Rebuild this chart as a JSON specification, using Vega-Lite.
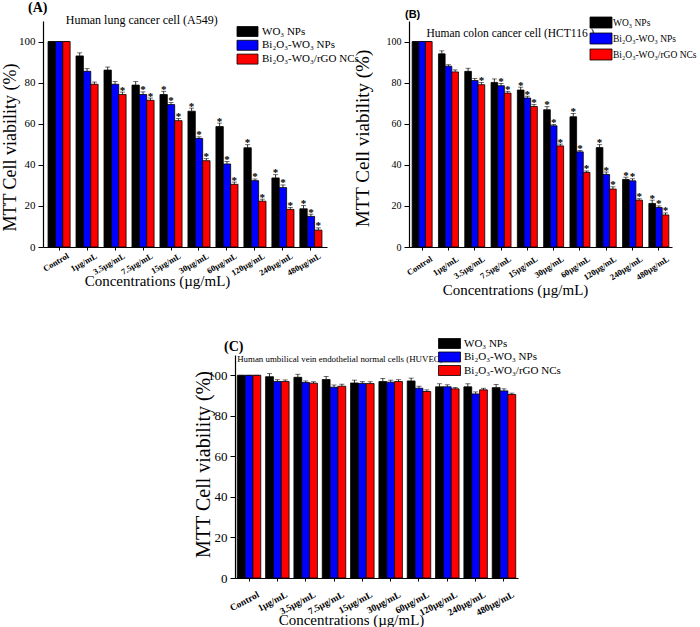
{
  "$schema": "https://vega.github.io/schema/vega-lite/v6.json",
  "padding": {"left": 0, "top": 0, "right": 0, "bottom": 0},
  "autosize": {"type": "pad"},
  "background": "white",
  "config": {
    "view": {"stroke": null},
    "font": "Liberation Serif",
    "title": {"color": "black"},
    "axis": {"grid": false, "labelColor": "black", "titleColor": "black", "tickColor": "black", "domainColor": "black", "labelOverlap": false, "labelFlush": false}
  },
  "spacing": 41,
  "resolve": {"scale": {"color": "independent", "x": "independent", "y": "independent", "xOffset": "independent"}, "legend": {"color": "independent"}},
  "datasets": {
    "A": [
      {"c": "Control", "s": "WO₃ NPs", "v": 100, "hi": 100, "st": 0},
      {"c": "Control", "s": "Bi₂O₃-WO₃ NPs", "v": 100, "hi": 100, "st": 0},
      {"c": "Control", "s": "Bi₂O₃-WO₃/rGO NCs", "v": 100, "hi": 100, "st": 0},
      {"c": "1µg/mL", "s": "WO₃ NPs", "v": 93.0, "hi": 94.5, "st": 0},
      {"c": "1µg/mL", "s": "Bi₂O₃-WO₃ NPs", "v": 85.5, "hi": 86.8, "st": 0},
      {"c": "1µg/mL", "s": "Bi₂O₃-WO₃/rGO NCs", "v": 79.2, "hi": 80.3, "st": 0},
      {"c": "3.5µg/mL", "s": "WO₃ NPs", "v": 86.1, "hi": 87.6, "st": 0},
      {"c": "3.5µg/mL", "s": "Bi₂O₃-WO₃ NPs", "v": 79.2, "hi": 80.5, "st": 0},
      {"c": "3.5µg/mL", "s": "Bi₂O₃-WO₃/rGO NCs", "v": 74.2, "hi": 75.4, "st": 1},
      {"c": "7.5µg/mL", "s": "WO₃ NPs", "v": 78.8, "hi": 80.5, "st": 0},
      {"c": "7.5µg/mL", "s": "Bi₂O₃-WO₃ NPs", "v": 74.2, "hi": 75.5, "st": 1},
      {"c": "7.5µg/mL", "s": "Bi₂O₃-WO₃/rGO NCs", "v": 71.4, "hi": 72.5, "st": 1},
      {"c": "15µg/mL", "s": "WO₃ NPs", "v": 74.2, "hi": 75.8, "st": 1},
      {"c": "15µg/mL", "s": "Bi₂O₃-WO₃ NPs", "v": 69.3, "hi": 70.3, "st": 1},
      {"c": "15µg/mL", "s": "Bi₂O₃-WO₃/rGO NCs", "v": 61.5, "hi": 62.5, "st": 1},
      {"c": "30µg/mL", "s": "WO₃ NPs", "v": 66.1, "hi": 67.6, "st": 1},
      {"c": "30µg/mL", "s": "Bi₂O₃-WO₃ NPs", "v": 52.8, "hi": 53.6, "st": 1},
      {"c": "30µg/mL", "s": "Bi₂O₃-WO₃/rGO NCs", "v": 42.0, "hi": 43.0, "st": 1},
      {"c": "60µg/mL", "s": "WO₃ NPs", "v": 58.6, "hi": 60.3, "st": 1},
      {"c": "60µg/mL", "s": "Bi₂O₃-WO₃ NPs", "v": 40.4, "hi": 41.6, "st": 1},
      {"c": "60µg/mL", "s": "Bi₂O₃-WO₃/rGO NCs", "v": 30.5, "hi": 31.6, "st": 1},
      {"c": "120µg/mL", "s": "WO₃ NPs", "v": 48.3, "hi": 49.8, "st": 1},
      {"c": "120µg/mL", "s": "Bi₂O₃-WO₃ NPs", "v": 32.3, "hi": 33.1, "st": 1},
      {"c": "120µg/mL", "s": "Bi₂O₃-WO₃/rGO NCs", "v": 22.3, "hi": 23.3, "st": 1},
      {"c": "240µg/mL", "s": "WO₃ NPs", "v": 33.6, "hi": 35.2, "st": 1},
      {"c": "240µg/mL", "s": "Bi₂O₃-WO₃ NPs", "v": 28.9, "hi": 30.2, "st": 1},
      {"c": "240µg/mL", "s": "Bi₂O₃-WO₃/rGO NCs", "v": 18.3, "hi": 19.2, "st": 1},
      {"c": "480µg/mL", "s": "WO₃ NPs", "v": 18.6, "hi": 20.2, "st": 1},
      {"c": "480µg/mL", "s": "Bi₂O₃-WO₃ NPs", "v": 14.9, "hi": 16.0, "st": 1},
      {"c": "480µg/mL", "s": "Bi₂O₃-WO₃/rGO NCs", "v": 8.2, "hi": 9.3, "st": 1}
    ],
    "B": [
      {"c": "Control", "s": "WO₃ NPs", "v": 100, "hi": 100, "st": 0},
      {"c": "Control", "s": "Bi₂O₃-WO₃ NPs", "v": 100, "hi": 100, "st": 0},
      {"c": "Control", "s": "Bi₂O₃-WO₃/rGO NCs", "v": 100, "hi": 100, "st": 0},
      {"c": "1µg/mL", "s": "WO₃ NPs", "v": 94.0, "hi": 95.5, "st": 0},
      {"c": "1µg/mL", "s": "Bi₂O₃-WO₃ NPs", "v": 88.0, "hi": 88.7, "st": 0},
      {"c": "1µg/mL", "s": "Bi₂O₃-WO₃/rGO NCs", "v": 85.2, "hi": 86.2, "st": 0},
      {"c": "3.5µg/mL", "s": "WO₃ NPs", "v": 85.5, "hi": 87.0, "st": 0},
      {"c": "3.5µg/mL", "s": "Bi₂O₃-WO₃ NPs", "v": 81.0, "hi": 82.0, "st": 0},
      {"c": "3.5µg/mL", "s": "Bi₂O₃-WO₃/rGO NCs", "v": 79.0, "hi": 80.0, "st": 1},
      {"c": "7.5µg/mL", "s": "WO₃ NPs", "v": 80.1, "hi": 81.8, "st": 0},
      {"c": "7.5µg/mL", "s": "Bi₂O₃-WO₃ NPs", "v": 78.5, "hi": 79.6, "st": 1},
      {"c": "7.5µg/mL", "s": "Bi₂O₃-WO₃/rGO NCs", "v": 74.9, "hi": 75.8, "st": 1},
      {"c": "15µg/mL", "s": "WO₃ NPs", "v": 76.4, "hi": 77.8, "st": 1},
      {"c": "15µg/mL", "s": "Bi₂O₃-WO₃ NPs", "v": 72.5, "hi": 73.4, "st": 1},
      {"c": "15µg/mL", "s": "Bi₂O₃-WO₃/rGO NCs", "v": 68.4, "hi": 69.3, "st": 1},
      {"c": "30µg/mL", "s": "WO₃ NPs", "v": 66.8, "hi": 68.3, "st": 1},
      {"c": "30µg/mL", "s": "Bi₂O₃-WO₃ NPs", "v": 59.0, "hi": 59.6, "st": 1},
      {"c": "30µg/mL", "s": "Bi₂O₃-WO₃/rGO NCs", "v": 49.2, "hi": 50.1, "st": 1},
      {"c": "60µg/mL", "s": "WO₃ NPs", "v": 63.4, "hi": 65.0, "st": 1},
      {"c": "60µg/mL", "s": "Bi₂O₃-WO₃ NPs", "v": 46.3, "hi": 47.0, "st": 1},
      {"c": "60µg/mL", "s": "Bi₂O₃-WO₃/rGO NCs", "v": 36.3, "hi": 37.0, "st": 1},
      {"c": "120µg/mL", "s": "WO₃ NPs", "v": 48.4, "hi": 49.8, "st": 1},
      {"c": "120µg/mL", "s": "Bi₂O₃-WO₃ NPs", "v": 35.3, "hi": 36.5, "st": 1},
      {"c": "120µg/mL", "s": "Bi₂O₃-WO₃/rGO NCs", "v": 28.2, "hi": 29.3, "st": 1},
      {"c": "240µg/mL", "s": "WO₃ NPs", "v": 32.9, "hi": 34.0, "st": 1},
      {"c": "240µg/mL", "s": "Bi₂O₃-WO₃ NPs", "v": 32.2, "hi": 33.2, "st": 1},
      {"c": "240µg/mL", "s": "Bi₂O₃-WO₃/rGO NCs", "v": 22.8, "hi": 23.5, "st": 1},
      {"c": "480µg/mL", "s": "WO₃ NPs", "v": 21.2, "hi": 22.8, "st": 1},
      {"c": "480µg/mL", "s": "Bi₂O₃-WO₃ NPs", "v": 19.2, "hi": 20.0, "st": 1},
      {"c": "480µg/mL", "s": "Bi₂O₃-WO₃/rGO NCs", "v": 15.6, "hi": 16.6, "st": 1}
    ],
    "C": [
      {"c": "Control", "s": "WO₃ NPs", "v": 100, "hi": 100, "st": 0},
      {"c": "Control", "s": "Bi₂O₃-WO₃ NPs", "v": 100, "hi": 100, "st": 0},
      {"c": "Control", "s": "Bi₂O₃-WO₃/rGO NCs", "v": 100, "hi": 100, "st": 0},
      {"c": "1µg/mL", "s": "WO₃ NPs", "v": 99.3, "hi": 100.8, "st": 0},
      {"c": "1µg/mL", "s": "Bi₂O₃-WO₃ NPs", "v": 96.9, "hi": 97.8, "st": 0},
      {"c": "1µg/mL", "s": "Bi₂O₃-WO₃/rGO NCs", "v": 96.9, "hi": 97.7, "st": 0},
      {"c": "3.5µg/mL", "s": "WO₃ NPs", "v": 99.0, "hi": 100.5, "st": 0},
      {"c": "3.5µg/mL", "s": "Bi₂O₃-WO₃ NPs", "v": 96.4, "hi": 97.2, "st": 0},
      {"c": "3.5µg/mL", "s": "Bi₂O₃-WO₃/rGO NCs", "v": 96.1, "hi": 96.8, "st": 0},
      {"c": "7.5µg/mL", "s": "WO₃ NPs", "v": 97.9, "hi": 99.4, "st": 0},
      {"c": "7.5µg/mL", "s": "Bi₂O₃-WO₃ NPs", "v": 94.1, "hi": 95.2, "st": 0},
      {"c": "7.5µg/mL", "s": "Bi₂O₃-WO₃/rGO NCs", "v": 94.6, "hi": 95.6, "st": 0},
      {"c": "15µg/mL", "s": "WO₃ NPs", "v": 96.2, "hi": 97.6, "st": 0},
      {"c": "15µg/mL", "s": "Bi₂O₃-WO₃ NPs", "v": 95.9, "hi": 96.8, "st": 0},
      {"c": "15µg/mL", "s": "Bi₂O₃-WO₃/rGO NCs", "v": 95.9, "hi": 96.8, "st": 0},
      {"c": "30µg/mL", "s": "WO₃ NPs", "v": 96.9, "hi": 98.4, "st": 0},
      {"c": "30µg/mL", "s": "Bi₂O₃-WO₃ NPs", "v": 96.6, "hi": 97.6, "st": 0},
      {"c": "30µg/mL", "s": "Bi₂O₃-WO₃/rGO NCs", "v": 96.9, "hi": 97.8, "st": 0},
      {"c": "60µg/mL", "s": "WO₃ NPs", "v": 97.2, "hi": 98.6, "st": 0},
      {"c": "60µg/mL", "s": "Bi₂O₃-WO₃ NPs", "v": 93.6, "hi": 94.6, "st": 0},
      {"c": "60µg/mL", "s": "Bi₂O₃-WO₃/rGO NCs", "v": 92.0, "hi": 92.8, "st": 0},
      {"c": "120µg/mL", "s": "WO₃ NPs", "v": 94.3, "hi": 95.8, "st": 0},
      {"c": "120µg/mL", "s": "Bi₂O₃-WO₃ NPs", "v": 94.3, "hi": 95.3, "st": 0},
      {"c": "120µg/mL", "s": "Bi₂O₃-WO₃/rGO NCs", "v": 93.3, "hi": 94.0, "st": 0},
      {"c": "240µg/mL", "s": "WO₃ NPs", "v": 94.3, "hi": 95.8, "st": 0},
      {"c": "240µg/mL", "s": "Bi₂O₃-WO₃ NPs", "v": 90.8, "hi": 91.8, "st": 0},
      {"c": "240µg/mL", "s": "Bi₂O₃-WO₃/rGO NCs", "v": 92.8, "hi": 93.6, "st": 0},
      {"c": "480µg/mL", "s": "WO₃ NPs", "v": 93.9, "hi": 95.4, "st": 0},
      {"c": "480µg/mL", "s": "Bi₂O₃-WO₃ NPs", "v": 92.3, "hi": 93.3, "st": 0},
      {"c": "480µg/mL", "s": "Bi₂O₃-WO₃/rGO NCs", "v": 90.5, "hi": 91.2, "st": 0}
    ]
  },
  "vconcat": [
    {
      "hconcat": [
        {
          "width": 284, "height": 226,
          "data": {"name": "A"},
          "title": {"text": "(A)", "anchor": "start", "frame": "group", "dx": -15, "offset": -1, "fontSize": 14, "fontWeight": "bold", "font": "Liberation Serif"},
          "encoding": {
            "x": {"field": "c", "type": "nominal", "sort": ["Control", "1µg/mL", "3.5µg/mL", "7.5µg/mL", "15µg/mL", "30µg/mL", "60µg/mL", "120µg/mL", "240µg/mL", "480µg/mL"],
              "scale": {"paddingInner": 0.21, "paddingOuter": 0.18},
              "axis": {"title": "Concentrations (µg/mL)", "titleFont": "Liberation Serif", "titleFontSize": 15, "titleFontWeight": "normal", "titleX": 114, "titleY": 33, "titleBaseline": "middle", "titleAlign": "center",
                "labelAngle": -30, "labelAlign": "right", "labelBaseline": "top", "labelFont": "Liberation Serif", "labelFontWeight": "bold", "labelFontSize": 8.5, "labelPadding": 1, "labelOffset": 7, "tickSize": 3, "domainWidth": 1.2}},
            "xOffset": {"field": "s", "type": "nominal", "sort": ["WO₃ NPs", "Bi₂O₃-WO₃ NPs", "Bi₂O₃-WO₃/rGO NCs"], "scale": {"paddingInner": 0, "paddingOuter": 0}}
          },
          "layer": [
            {
              "mark": {"type": "bar", "stroke": "black", "strokeWidth": 0.8},
              "encoding": {
                "y": {"field": "v", "type": "quantitative", "stack": null, "scale": {"domain": [0, 110], "nice": false},
                  "axis": {"values": [0, 20, 40, 60, 80, 100], "title": "MTT Cell viability (%)", "titleFont": "Liberation Serif", "titleFontSize": 18, "titleFontWeight": "normal", "titleX": -33, "titleY": 126, "titleAngle": -90, "titleBaseline": "middle", "titleAlign": "center",
                    "labelFont": "Liberation Serif", "labelFontSize": 11, "labelPadding": 3, "tickSize": 5, "domainWidth": 1.2}},
                "color": {"field": "s", "type": "nominal", "sort": ["WO₃ NPs", "Bi₂O₃-WO₃ NPs", "Bi₂O₃-WO₃/rGO NCs"],
                  "scale": {"domain": ["WO₃ NPs", "Bi₂O₃-WO₃ NPs", "Bi₂O₃-WO₃/rGO NCs"], "range": ["#000000", "#0000ff", "#ff0000"]},
                  "legend": {"title": null, "orient": "none", "legendX": 199, "legendY": 5, "padding": 0, "symbolType": "M-2.1,-1H2.1V1H-2.1Z", "symbolSize": 100, "symbolStrokeColor": "black", "symbolStrokeWidth": 0.8, "symbolOpacity": 1, "labelFont": "Liberation Serif", "labelFontSize": 11, "labelColor": "black", "labelOffset": 9, "rowPadding": -1.2}}
              }
            },
            {
              "mark": {"type": "rule", "color": "black", "strokeWidth": 0.8},
              "encoding": {"y": {"field": "v", "type": "quantitative"}, "y2": {"field": "hi"}}
            },
            {
              "mark": {"type": "tick", "color": "black", "thickness": 0.8, "size": 5},
              "encoding": {"y": {"field": "hi", "type": "quantitative"}}
            },
            {
              "transform": [{"filter": "datum.st == 1"}],
              "mark": {"type": "text", "text": "*", "font": "Liberation Serif", "fontSize": 11, "fontWeight": "bold", "color": "black", "baseline": "alphabetic", "dy": 1.5},
              "encoding": {"y": {"field": "hi", "type": "quantitative"}}
            },
            {
              "transform": [{"filter": "datum.c == 'Control' && datum.s == 'WO₃ NPs'"}],
              "mark": {"type": "text", "font": "Liberation Serif", "fontSize": 12, "color": "black", "align": "left", "baseline": "middle", "dx": 14},
              "encoding": {"y": {"datum": 110.5}, "text": {"value": "Human lung cancer cell (A549)"}}
            }
          ]
        },
        {
          "width": 263, "height": 226,
          "data": {"name": "B"},
          "title": {"text": "(B)", "anchor": "start", "frame": "group", "dx": -4, "offset": -3.5, "fontSize": 11, "fontWeight": "bold", "font": "Liberation Sans"},
          "encoding": {
            "x": {"field": "c", "type": "nominal", "sort": ["Control", "1µg/mL", "3.5µg/mL", "7.5µg/mL", "15µg/mL", "30µg/mL", "60µg/mL", "120µg/mL", "240µg/mL", "480µg/mL"],
              "scale": {"paddingInner": 0.24, "paddingOuter": 0.12},
              "axis": {"title": "Concentrations (µg/mL)", "titleFont": "Liberation Serif", "titleFontSize": 15, "titleFontWeight": "normal", "titleX": 106, "titleY": 42, "titleBaseline": "middle", "titleAlign": "center",
                "labelAngle": -33, "labelAlign": "right", "labelBaseline": "top", "labelFont": "Liberation Serif", "labelFontWeight": "bold", "labelFontSize": 8.5, "labelPadding": 4, "labelOffset": 7, "tickSize": 3, "domainWidth": 1.2}},
            "xOffset": {"field": "s", "type": "nominal", "sort": ["WO₃ NPs", "Bi₂O₃-WO₃ NPs", "Bi₂O₃-WO₃/rGO NCs"], "scale": {"paddingInner": 0, "paddingOuter": 0}}
          },
          "layer": [
            {
              "mark": {"type": "bar", "stroke": "black", "strokeWidth": 0.8},
              "encoding": {
                "y": {"field": "v", "type": "quantitative", "stack": null, "scale": {"domain": [0, 110], "nice": false},
                  "axis": {"values": [0, 20, 40, 60, 80, 100], "title": "MTT Cell viability (%)", "titleFont": "Liberation Serif", "titleFontSize": 19, "titleFontWeight": "normal", "titleX": -47, "titleY": 117, "titleAngle": -90, "titleBaseline": "middle", "titleAlign": "center",
                    "labelFont": "Liberation Serif", "labelFontSize": 10, "labelPadding": 3, "tickSize": 5, "domainWidth": 1.2}},
                "color": {"field": "s", "type": "nominal", "sort": ["WO₃ NPs", "Bi₂O₃-WO₃ NPs", "Bi₂O₃-WO₃/rGO NCs"],
                  "scale": {"domain": ["WO₃ NPs", "Bi₂O₃-WO₃ NPs", "Bi₂O₃-WO₃/rGO NCs"], "range": ["#000000", "#0000ff", "#ff0000"]},
                  "legend": {"title": null, "orient": "none", "legendX": 186, "legendY": -4.5, "padding": 0, "symbolType": "M-2,-1H2V1H-2Z", "symbolSize": 121, "symbolStrokeColor": "black", "symbolStrokeWidth": 0.8, "symbolOpacity": 1, "labelFont": "Liberation Serif", "labelFontSize": 9.5, "labelColor": "black", "labelOffset": 6, "rowPadding": 0}}
              }
            },
            {
              "mark": {"type": "rule", "color": "black", "strokeWidth": 0.8},
              "encoding": {"y": {"field": "v", "type": "quantitative"}, "y2": {"field": "hi"}}
            },
            {
              "mark": {"type": "tick", "color": "black", "thickness": 0.8, "size": 5},
              "encoding": {"y": {"field": "hi", "type": "quantitative"}}
            },
            {
              "transform": [{"filter": "datum.st == 1"}],
              "mark": {"type": "text", "text": "*", "font": "Liberation Serif", "fontSize": 11, "fontWeight": "bold", "color": "black", "baseline": "alphabetic", "dy": 1.5},
              "encoding": {"y": {"field": "hi", "type": "quantitative"}}
            },
            {
              "transform": [{"filter": "datum.c == 'Control' && datum.s == 'WO₃ NPs'"}],
              "mark": {"type": "text", "font": "Liberation Serif", "fontSize": 11.5, "color": "black", "align": "left", "baseline": "middle", "dx": 11},
              "encoding": {"y": {"datum": 103.5}, "text": {"value": "Human colon cancer cell (HCT116 )"}}
            }
          ]
        }
      ],
      "spacing": 82,
      "bounds": "flush",
      "resolve": {"scale": {"color": "independent", "x": "independent", "y": "independent", "xOffset": "independent"}, "legend": {"color": "independent"}}
    },
    {
      "hconcat": [
        {
          "width": 182, "height": 10,
          "data": {"values": [{}]},
          "mark": {"type": "text", "text": ""}
        },
        {
          "width": 283, "height": 223,
          "data": {"name": "C"},
          "title": {"text": "(C)", "anchor": "start", "frame": "group", "dx": -11, "offset": -16, "fontSize": 14, "fontWeight": "bold", "font": "Liberation Serif"},
          "encoding": {
            "x": {"field": "c", "type": "nominal", "sort": ["Control", "1µg/mL", "3.5µg/mL", "7.5µg/mL", "15µg/mL", "30µg/mL", "60µg/mL", "120µg/mL", "240µg/mL", "480µg/mL"],
              "scale": {"paddingInner": 0.17, "paddingOuter": 0.08},
              "axis": {"title": "Concentrations (µg/mL)", "titleFont": "Liberation Serif", "titleFontSize": 15, "titleFontWeight": "normal", "titleX": 116, "titleY": 41, "titleBaseline": "middle", "titleAlign": "center",
                "labelAngle": -28, "labelAlign": "right", "labelBaseline": "top", "labelFont": "Liberation Serif", "labelFontWeight": "bold", "labelFontSize": 9.5, "labelPadding": 8, "labelOffset": 7, "tickSize": 3, "domainWidth": 1.2}},
            "xOffset": {"field": "s", "type": "nominal", "sort": ["WO₃ NPs", "Bi₂O₃-WO₃ NPs", "Bi₂O₃-WO₃/rGO NCs"], "scale": {"paddingInner": 0, "paddingOuter": 0}}
          },
          "layer": [
            {
              "mark": {"type": "bar", "stroke": "black", "strokeWidth": 0.8},
              "encoding": {
                "y": {"field": "v", "type": "quantitative", "stack": null, "scale": {"domain": [0, 110], "nice": false},
                  "axis": {"values": [0, 20, 40, 60, 80, 100], "title": "MTT Cell viability (%)", "titleFont": "Liberation Serif", "titleFontSize": 20, "titleFontWeight": "normal", "titleX": -32, "titleY": 109, "titleAngle": -90, "titleBaseline": "middle", "titleAlign": "center",
                    "labelFont": "Liberation Serif", "labelFontSize": 13, "labelPadding": 3, "tickSize": 5, "domainWidth": 1.2}},
                "color": {"field": "s", "type": "nominal", "sort": ["WO₃ NPs", "Bi₂O₃-WO₃ NPs", "Bi₂O₃-WO₃/rGO NCs"],
                  "scale": {"domain": ["WO₃ NPs", "Bi₂O₃-WO₃ NPs", "Bi₂O₃-WO₃/rGO NCs"], "range": ["#000000", "#0000ff", "#ff0000"]},
                  "legend": {"title": null, "orient": "none", "legendX": 209, "legendY": -17, "padding": 0, "symbolType": "M-2.2,-1H2.2V1H-2.2Z", "symbolSize": 100, "symbolStrokeColor": "black", "symbolStrokeWidth": 0.8, "symbolOpacity": 1, "labelFont": "Liberation Serif", "labelFontSize": 11, "labelColor": "black", "labelOffset": 9, "rowPadding": -1.5}}
              }
            },
            {
              "mark": {"type": "rule", "color": "black", "strokeWidth": 0.8},
              "encoding": {"y": {"field": "v", "type": "quantitative"}, "y2": {"field": "hi"}}
            },
            {
              "mark": {"type": "tick", "color": "black", "thickness": 0.8, "size": 5},
              "encoding": {"y": {"field": "hi", "type": "quantitative"}}
            },
            {
              "transform": [{"filter": "datum.c == 'Control' && datum.s == 'WO₃ NPs'"}],
              "mark": {"type": "text", "font": "Liberation Serif", "fontSize": 8.9, "color": "black", "align": "left", "baseline": "middle", "dx": -4},
              "encoding": {"y": {"datum": 108}, "text": {"value": "Human umbilical vein endothelial  normal cells (HUVEC)"}}
            }
          ]
        }
      ],
      "spacing": 10,
      "bounds": "flush",
      "resolve": {"scale": {"color": "independent", "x": "independent", "y": "independent", "xOffset": "independent"}, "legend": {"color": "independent"}}
    }
  ]
}
